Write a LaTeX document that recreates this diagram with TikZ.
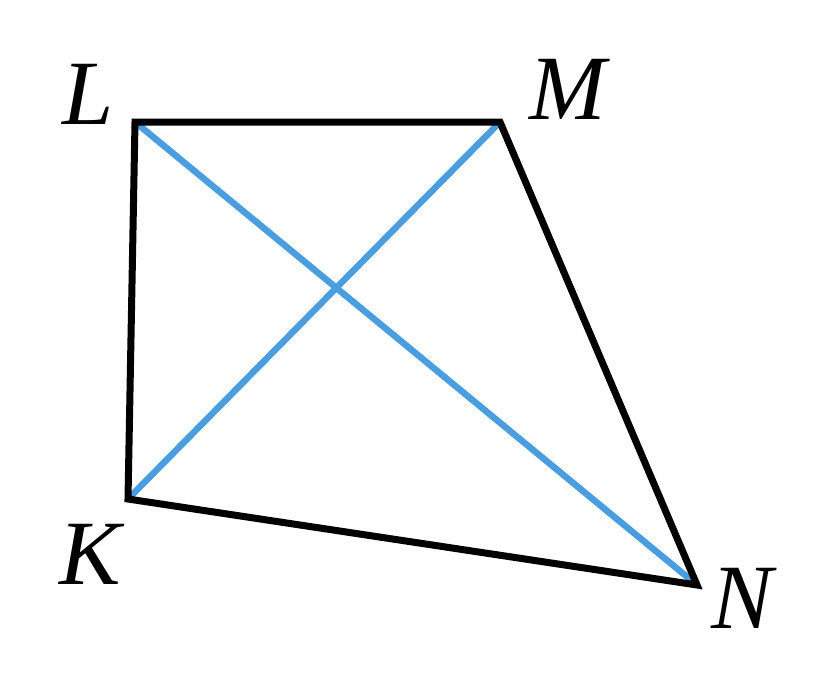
\documentclass[tikz,border=0pt]{standalone}
\usepackage{fontspec}
\setmainfont{Liberation Serif}
\begin{document}
\begin{tikzpicture}[x=1pt,y=-1pt,
  edge/.style={line width=7pt,miter limit=10},
  diag/.style={line width=6.5pt,color=diagblue},
  lbl/.style={font=\fontsize{92}{92}\selectfont\itshape,inner sep=0pt}]
\definecolor{diagblue}{HTML}{4A9DDF}
\useasboundingbox (0,0) rectangle (829,673);
\coordinate (L) at (135,122);
\coordinate (M) at (500,122);
\coordinate (N) at (697,585);
\coordinate (K) at (128,499);
\draw[diag] (L) -- (N);
\draw[diag] (K) -- (M);
\draw[edge] (L) -- (M) -- (N) -- (K) -- cycle;
\node[lbl] (tL) at (88,94) {L};
\node[lbl] (tM) at (568,89) {M};
\node[lbl] (tK) at (90,554) {K};
\node[lbl] (tN) at (742,598) {N};
\end{tikzpicture}
\end{document}
